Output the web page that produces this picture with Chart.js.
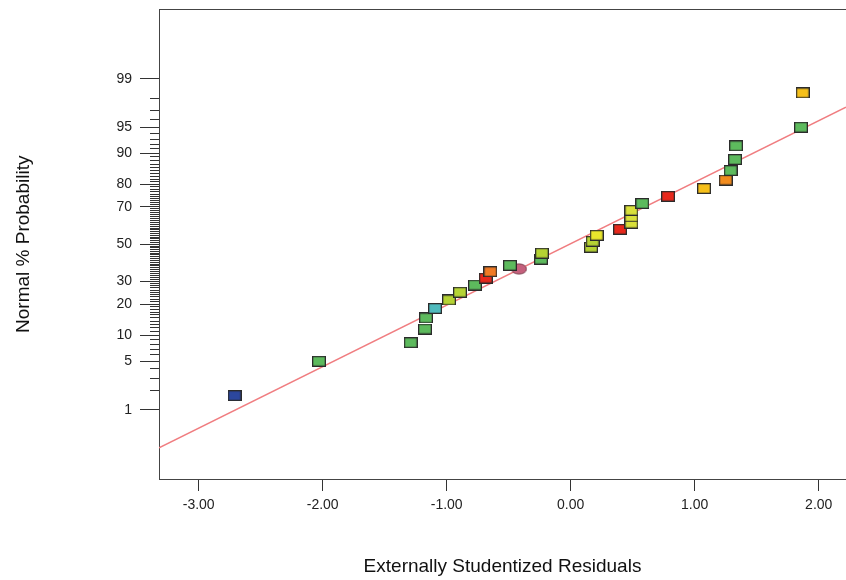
<!DOCTYPE html>
<html>
<head>
<meta charset="utf-8">
<script src="https://cdn.jsdelivr.net/npm/chart.js@4.4.1/dist/chart.umd.min.js"></script>
<style>
html, body { margin: 0; padding: 0; background: #fff; }
#wrap { width: 846px; height: 580px; }
</style>
</head>
<body>
<div id="wrap"><canvas id="chart" width="846" height="580"></canvas></div>
<script>
// externally studentized residuals, sorted, with their normal % probability
const residuals = [-2.71, -2.03, -1.29, -1.175, -1.167, -1.094, -0.981, -0.893, -0.772, -0.685,
  -0.648, -0.49, -0.24, -0.232, 0.164, 0.177, 0.21, 0.398, 0.489, 0.489,
  0.489, 0.577, 0.785, 1.075, 1.25, 1.29, 1.325, 1.333, 1.857, 1.871];
const probabilities = [1.67, 5.0, 8.33, 11.67, 15.0, 18.33, 21.67, 25.0, 28.33, 31.67,
  35.0, 38.33, 41.67, 45.0, 48.33, 51.67, 55.0, 58.33, 61.67, 65.0,
  68.33, 71.67, 75.0, 78.33, 81.67, 85.0, 88.33, 91.67, 95.0, 98.33];
const pointColors = ["#2c479e", "#5dba5d", "#5dba5d", "#5dba5d", "#5dba5d", "#4fbabd", "#b5d334", "#b5d334", "#5dba5d", "#e8281c",
  "#f07a24", "#5dba5d", "#5dba5d", "#b5d334", "#b5d334", "#b5d334", "#e8e62c", "#e8281c", "#d9e03a", "#d9e03a",
  "#d9e03a", "#5dba5d", "#e8281c", "#f6c01a", "#f28c1e", "#5dba5d", "#5dba5d", "#5dba5d", "#5dba5d", "#f6c01a"];

// highlighted run (ellipse marker)
const markX = [-0.417];
const markP = [36.4];

// fitted normal line
const fitX = [-3.32, 2.22];
const fitP = [0.21, 97.3];

const xTicks = [-3, -2, -1, 0, 1, 2];
const yLabels = [1, 5, 10, 20, 30, 50, 70, 80, 90, 95, 99];
const yMinor = [];
for (let p = 1; p <= 99; p++) yMinor.push(p);

const FONT = '"Liberation Sans", Arial, sans-serif';

// percent -> standard normal quantile (Acklam)
function probit(pct) {
  const p = pct / 100;
  const a = [-3.969683028665376e+01, 2.209460984245205e+02, -2.759285104469687e+02, 1.383577518672690e+02, -3.066479806614716e+01, 2.506628277459239e+00];
  const b = [-5.447609879822406e+01, 1.615858368580409e+02, -1.556989798598866e+02, 6.680131188771972e+01, -1.328068155288572e+01];
  const c = [-7.784894002430293e-03, -3.223964580411365e-01, -2.400758277161838e+00, -2.549732539343734e+00, 4.374664141464968e+00, 2.938163982698783e+00];
  const d = [7.784695709041462e-03, 3.224671290700398e-01, 2.445134137142996e+00, 3.754408661907416e+00];
  const pl = 0.02425;
  let q, r;
  if (p < pl) {
    q = Math.sqrt(-2 * Math.log(p));
    return (((((c[0]*q+c[1])*q+c[2])*q+c[3])*q+c[4])*q+c[5]) / ((((d[0]*q+d[1])*q+d[2])*q+d[3])*q+1);
  }
  if (p > 1 - pl) {
    q = Math.sqrt(-2 * Math.log(1 - p));
    return -(((((c[0]*q+c[1])*q+c[2])*q+c[3])*q+c[4])*q+c[5]) / ((((d[0]*q+d[1])*q+d[2])*q+d[3])*q+1);
  }
  q = p - 0.5; r = q * q;
  return (((((a[0]*r+a[1])*r+a[2])*r+a[3])*r+a[4])*r+a[5])*q / (((((b[0]*r+b[1])*r+b[2])*r+b[3])*r+b[4])*r+1);
}

function boxMarker(color) {
  const c = document.createElement("canvas");
  c.width = 14; c.height = 11;
  const g = c.getContext("2d");
  g.fillStyle = color;
  g.fillRect(1, 1, 12, 9);
  g.strokeStyle = "#2b2b2b";
  g.lineWidth = 1.3;
  g.strokeRect(0.65, 0.65, 12.7, 9.7);
  return c;
}

function ellipseMarker(color) {
  const c = document.createElement("canvas");
  c.width = 17; c.height = 12;
  const g = c.getContext("2d");
  g.beginPath();
  g.ellipse(8.5, 6, 7.6, 5.1, 0, 0, Math.PI * 2);
  g.fillStyle = color;
  g.fill();
  g.strokeStyle = "#7a3a4a";
  g.lineWidth = 1;
  g.stroke();
  return c;
}

// no extra padding from tick labels: chart area edges fixed by the axes sizes
function noPad(s) {
  s.paddingTop = 0; s.paddingBottom = 0; s.paddingLeft = 0; s.paddingRight = 0;
}

const X_MIN = -3.32, X_MAX = 2.22, Z_LIM = 3.3;

new Chart(document.getElementById("chart"), {
  type: "scatter",
  data: {
    datasets: [
      {
        label: "runs",
        data: residuals.map((x, i) => ({ x: x, y: probit(probabilities[i]) })),
        pointStyle: pointColors.map(boxMarker),
        pointRadius: 6,
        order: 1
      },
      {
        label: "highlight",
        data: markX.map((x, i) => ({ x: x, y: probit(markP[i]) })),
        pointStyle: ellipseMarker("#c4607c"),
        pointRadius: 6,
        order: 2
      },
      {
        label: "fit",
        data: fitX.map((x, i) => ({ x: x, y: probit(fitP[i]) })),
        showLine: true,
        borderColor: "#f07d80",
        borderWidth: 1.6,
        pointRadius: 0,
        order: 3
      }
    ]
  },
  options: {
    responsive: false,
    animation: false,
    events: [],
    layout: { padding: 0, autoPadding: false },
    plugins: { legend: { display: false }, tooltip: { enabled: false } },
    scales: {
      x: {
        type: "linear", position: "bottom", min: X_MIN, max: X_MAX,
        afterBuildTicks: s => { s.ticks = xTicks.map(v => ({ value: v })); },
        afterFit: s => { s.height = 101; noPad(s); },
        grid: { drawOnChartArea: false, tickLength: 12, color: "#333", lineWidth: 1 },
        border: { display: true, color: "#444", width: 1 },
        ticks: { callback: v => v.toFixed(2), padding: 6, autoSkip: false, maxRotation: 0,
                 font: { family: FONT, size: 14 }, color: "#222" },
        title: { display: true, text: "Externally Studentized Residuals",
                 font: { family: FONT, size: 19 }, color: "#111", padding: { top: 0, bottom: 2 } }
      },
      xTop: {
        type: "linear", position: "top", min: X_MIN, max: X_MAX,
        afterFit: s => { s.height = 9.5; noPad(s); },
        grid: { display: false, drawTicks: false },
        border: { display: true, color: "#444", width: 1 },
        ticks: { display: false }
      },
      y: {
        type: "linear", position: "left", weight: 2, min: -Z_LIM, max: Z_LIM,
        afterBuildTicks: s => { s.ticks = yLabels.map(p => ({ value: probit(p) })); },
        afterTickToLabelConversion: s => { s.ticks.forEach((t, i) => { t.label = String(yLabels[i]); }); },
        afterFit: s => { s.width = 150; noPad(s); },
        grid: { drawOnChartArea: false, tickLength: 10, color: "#333", lineWidth: 1 },
        border: { display: false },
        ticks: { padding: 8, autoSkip: false, font: { family: FONT, size: 14 }, color: "#222" },
        title: { display: true, text: "Normal % Probability",
                 font: { family: FONT, size: 19 }, color: "#111", padding: { top: 12, bottom: 0 } }
      },
      yMinor: {
        type: "linear", position: "left", weight: 1, min: -Z_LIM, max: Z_LIM,
        afterBuildTicks: s => { s.ticks = yMinor.map(p => ({ value: probit(p) })); },
        afterFit: s => { s.width = 9; noPad(s); },
        grid: { drawOnChartArea: false, tickLength: 9, color: "#333", lineWidth: 1 },
        border: { display: true, color: "#444", width: 1 },
        ticks: { display: false, autoSkip: false }
      }
    }
  }
});
</script>
</body>
</html>
